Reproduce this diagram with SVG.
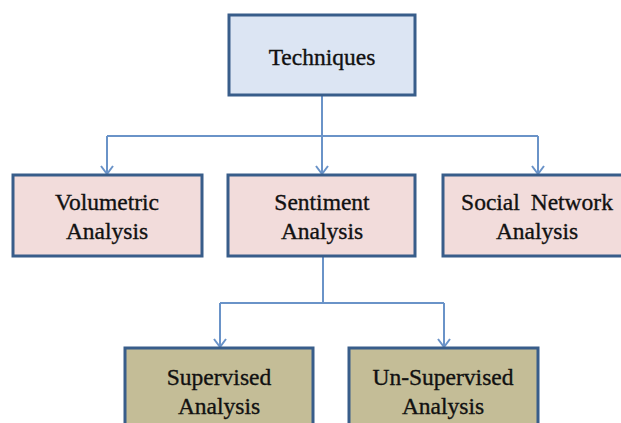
<svg xmlns="http://www.w3.org/2000/svg" width="621" height="423" viewBox="0 0 621 423">
<defs>
<style>
.box{stroke:#385d8a;stroke-width:3}
.top{fill:#dce5f3}
.mid{fill:#f2dcdb}
.bot{fill:#c4bd97}
.lbl{font-family:"Liberation Serif","Times New Roman",serif;font-size:23.5px;fill:#111111;stroke:#111111;stroke-width:0.35;text-anchor:middle}
.con{fill:none;stroke:#6a93c8;stroke-width:2}
</style>
<marker id="arr" markerWidth="14" markerHeight="12" refX="7" refY="11" orient="0" markerUnits="userSpaceOnUse" viewBox="0 0 14 12">
<path d="M1,3 L7,11 L13,3" fill="none" stroke="#6a93c8" stroke-width="2"/>
</marker>
</defs>
<rect width="621" height="423" fill="#ffffff"/>
<g id="connectors">
<path class="con" d="M322,95 V136"/>
<path class="con" d="M107,136 H538"/>
<path class="con" d="M107,136 V174" marker-end="url(#arr)"/>
<path class="con" d="M322,136 V174" marker-end="url(#arr)"/>
<path class="con" d="M538,136 V174" marker-end="url(#arr)"/>
<path class="con" d="M323,256 V303"/>
<path class="con" d="M220,303 H444"/>
<path class="con" d="M220,303 V347" marker-end="url(#arr)"/>
<path class="con" d="M444,303 V347" marker-end="url(#arr)"/>
</g>
<g id="techniques">
<rect class="box top" x="229" y="15" width="186" height="80"/>
<text class="lbl" x="322" y="65">Techniques</text>
</g>
<g id="volumetric">
<rect class="box mid" x="13" y="175" width="189" height="81"/>
<text class="lbl" x="107" y="210">Volumetric</text>
<text class="lbl" x="107" y="239">Analysis</text>
</g>
<g id="sentiment">
<rect class="box mid" x="228" y="175" width="187" height="81"/>
<text class="lbl" x="322" y="210">Sentiment</text>
<text class="lbl" x="322" y="239">Analysis</text>
</g>
<g id="social">
<rect class="box mid" x="443" y="175" width="190" height="81"/>
<text class="lbl" x="537" y="210" word-spacing="5">Social Network</text>
<text class="lbl" x="537" y="239">Analysis</text>
</g>
<g id="supervised">
<rect class="box bot" x="125" y="348" width="188" height="90"/>
<text class="lbl" x="219" y="385">Supervised</text>
<text class="lbl" x="219" y="414">Analysis</text>
</g>
<g id="unsupervised">
<rect class="box bot" x="349" y="348" width="189" height="90"/>
<text class="lbl" x="443" y="385">Un-Supervised</text>
<text class="lbl" x="443" y="414">Analysis</text>
</g>
</svg>
